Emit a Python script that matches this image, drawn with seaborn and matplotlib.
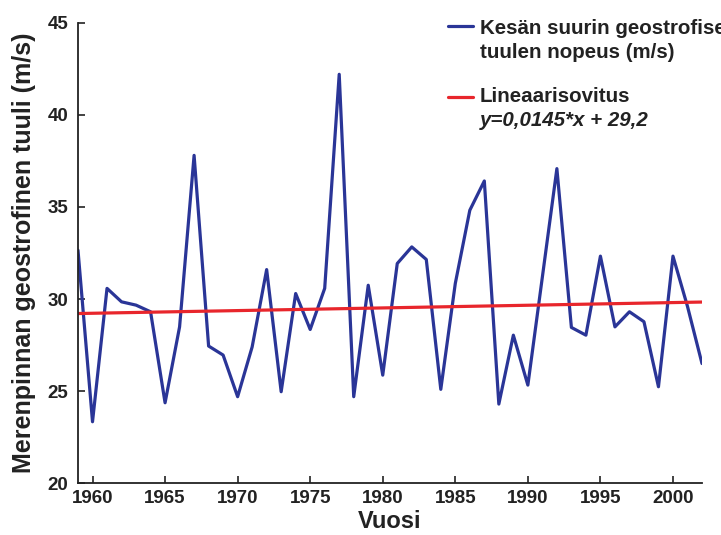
import numpy as np
import pandas as pd
import seaborn as sns
import matplotlib.pyplot as plt
from matplotlib.lines import Line2D

# ---- data ----
years = list(range(1959, 2003))
wind = [32.65, 23.34, 30.58, 29.85, 29.67, 29.31, 24.37, 28.49, 37.8, 27.45,
        26.96, 24.7, 27.4, 31.6, 24.97, 30.3, 28.35, 30.58, 42.2,
        24.7, 30.75, 25.87, 31.93, 32.83, 32.15, 25.1, 30.85, 34.82, 36.41,
        24.3, 28.04, 25.33, 31.2, 37.08,
        28.46, 28.04, 32.33, 28.49, 29.31, 28.77, 25.24, 32.33, 29.6, 26.5]
trend_slope = 0.0145
trend_intercept = 29.2
x_ticks = [1960, 1965, 1970, 1975, 1980, 1985, 1990, 1995, 2000]
y_ticks = [20, 25, 30, 35, 40, 45]

label_series = "Kesän suurin geostrofisen"
label_series2 = "tuulen nopeus (m/s)"
label_fit = "Lineaarisovitus"
label_eq = "y=0,0145*x + 29,2"

df = pd.DataFrame({"Vuosi": years, "tuuli": wind})
df["trend"] = trend_intercept + trend_slope * (df["Vuosi"] - years[0] + 1)

sns.set_style("ticks")
plt.rcParams['font.family'] = ['Liberation Sans', 'DejaVu Sans']
plt.rcParams['font.weight'] = 'bold'

blue = "#2a3597"
red = "#e8262c"

fig = plt.figure(figsize=(7.21, 5.35), dpi=100)
W, H = 721, 535
ax = fig.add_axes([78 / W, 1 - 483.3 / H, (702 - 78) / W, (483.3 - 22.7) / H])

sns.lineplot(data=df, x="Vuosi", y="tuuli", ax=ax, color=blue, linewidth=2.3)
sns.lineplot(data=df, x="Vuosi", y="trend", ax=ax, color=red, linewidth=2.3)

ax.set_xlim(1959, 2002)
ax.set_ylim(20, 45)
ax.set_xticks(x_ticks)
ax.set_yticks(y_ticks)
ax.tick_params(direction='in', length=5, width=1.2, colors='#222222',
               labelsize=13.5, labelcolor='#222222')
ax.tick_params(axis='y', pad=7)
ax.tick_params(axis='x', pad=5)
for lab in ax.get_xticklabels() + ax.get_yticklabels():
    lab.set_fontweight('bold')

for s in ['top', 'right']:
    ax.spines[s].set_visible(False)
for s in ['left', 'bottom']:
    ax.spines[s].set_linewidth(1.3)
    ax.spines[s].set_color('#222222')

ax.set_xlabel("Vuosi", fontsize=17, fontweight='bold', color='#222222', labelpad=2)
ax.set_ylabel("Merenpinnan geostrofinen tuuli (m/s)", fontsize=18,
              fontweight='bold', color='#222222')
ax.yaxis.set_label_coords(-0.067, 0.5)
if ax.get_legend():
    ax.get_legend().remove()

# ---- legend (drawn manually, clipped at the figure edge like the reference) ----
def fy(py):
    return 1 - py / H

fig.add_artist(Line2D([448 / W, 473 / W], [fy(26), fy(26)], color=blue, linewidth=2.3))
fig.add_artist(Line2D([448 / W, 473 / W], [fy(97), fy(97)], color=red, linewidth=2.3))
tx = 480 / W
fs = 14.8
fig.text(tx, fy(28), label_series, fontsize=fs, fontweight='bold', va='center', color='#222222')
fig.text(tx, fy(52), label_series2, fontsize=fs, fontweight='bold', va='center', color='#222222')
fig.text(tx, fy(97), label_fit, fontsize=fs, fontweight='bold', va='center', color='#222222')
fig.text(tx, fy(120), label_eq, fontsize=fs, fontweight='bold', style='italic',
         va='center', color='#222222')

fig.savefig("out.png", dpi=100)
